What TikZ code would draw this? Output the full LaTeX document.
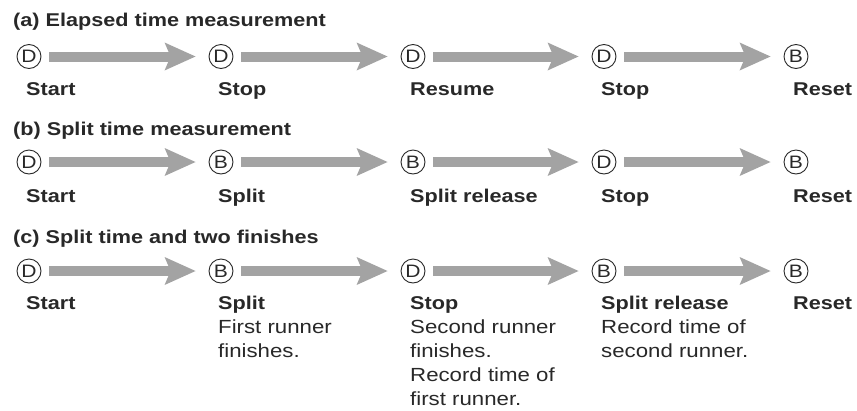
\documentclass[tikz,border=0pt]{standalone}
\usepackage{fontspec}
\setmainfont{Liberation Sans}[FakeStretch=1.17]
\usetikzlibrary{arrows.meta}
\definecolor{txt}{RGB}{40,40,40}
\definecolor{arrowgray}{RGB}{163,163,163}
\tikzset{
  state/.style={circle, draw=txt, line width=0.9pt, minimum size=24pt, inner sep=0pt, text=txt, font=\fontsize{18}{20}\selectfont},
  title/.style={anchor=base west, inner sep=0pt, text=txt, font=\fontsize{18.5}{24}\selectfont\bfseries},
  lab/.style={anchor=base west, inner sep=0pt, text=txt, font=\fontsize{18.5}{24}\selectfont\bfseries},
  desc/.style={anchor=base west, inner sep=0pt, text=txt, font=\fontsize{19}{24}\selectfont},
  flow/.style={line width=10pt, draw=arrowgray, shorten <=8pt, shorten >=13pt,
    -{Stealth[length=31pt, width=28pt, inset=6pt, line width=0pt]}}
}
\begin{document}
\begin{tikzpicture}[x=1pt, y=-1pt]
\useasboundingbox (0,0) rectangle (857,410);
% ---------- (a)
\node[title] (ta) at (13,26.5) {(a) Elapsed time measurement};
\node[state] (a1) at (29,56.5) {D};
\node[state] (a2) at (221,56.5) {D};
\node[state] (a3) at (413,56.5) {D};
\node[state] (a4) at (604,56.5) {D};
\node[state] (a5) at (796,56.5) {B};
\draw[flow] (a1) -- (a2);
\draw[flow] (a2) -- (a3);
\draw[flow] (a3) -- (a4);
\draw[flow] (a4) -- (a5);
\node[lab] (la1) at (26,95.5) {Start};
\node[lab] (la2) at (218,95.5) {Stop};
\node[lab] (la3) at (410,95.5) {Resume};
\node[lab] (la4) at (601,95.5) {Stop};
\node[lab] (la5) at (793,95.5) {Reset};
% ---------- (b)
\node[title] (tb) at (13,135.5) {(b) Split time measurement};
\node[state] (b1) at (29,162) {D};
\node[state] (b2) at (221,162) {B};
\node[state] (b3) at (413,162) {B};
\node[state] (b4) at (604,162) {D};
\node[state] (b5) at (796,162) {B};
\draw[flow] (b1) -- (b2);
\draw[flow] (b2) -- (b3);
\draw[flow] (b3) -- (b4);
\draw[flow] (b4) -- (b5);
\node[lab] (lb1) at (26,202.5) {Start};
\node[lab] (lb2) at (218,202.5) {Split};
\node[lab] (lb3) at (410,202.5) {Split release};
\node[lab] (lb4) at (601,202.5) {Stop};
\node[lab] (lb5) at (793,202.5) {Reset};
% ---------- (c)
\node[title] (tc) at (13,243.5) {(c) Split time and two finishes};
\node[state] (c1) at (29,271) {D};
\node[state] (c2) at (221,271) {B};
\node[state] (c3) at (413,271) {D};
\node[state] (c4) at (604,271) {B};
\node[state] (c5) at (796,271) {B};
\draw[flow] (c1) -- (c2);
\draw[flow] (c2) -- (c3);
\draw[flow] (c3) -- (c4);
\draw[flow] (c4) -- (c5);
\node[lab] (lc1) at (26,309.5) {Start};
\node[lab] (lc2) at (218,309.5) {Split};
\node[desc] (dc2a) at (218,333.5) {First runner};
\node[desc] (dc2b) at (218,357.5) {finishes.};
\node[lab] (lc3) at (410,309.5) {Stop};
\node[desc] (dc3a) at (410,333.5) {Second runner};
\node[desc] (dc3b) at (410,357.5) {finishes.};
\node[desc] (dc3c) at (410,381.5) {Record time of};
\node[desc] (dc3d) at (410,405.5) {first runner.};
\node[lab] (lc4) at (601,309.5) {Split release};
\node[desc] (dc4a) at (601,333.5) {Record time of};
\node[desc] (dc4b) at (601,357.5) {second runner.};
\node[lab] (lc5) at (793,309.5) {Reset};
\end{tikzpicture}
\end{document}
